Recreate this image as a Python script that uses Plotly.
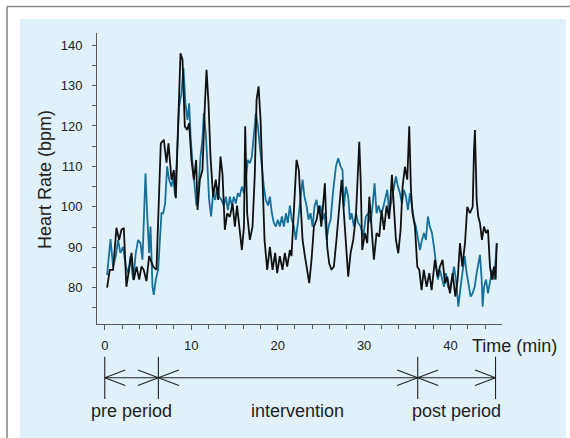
import plotly.graph_objects as go

# ---------------- data ----------------
T_BLACK = [0.27, 0.58, 0.96, 1.35, 1.66, 1.93, 2.2, 2.5, 2.8, 3.09, 3.36, 3.67, 3.98, 4.24, 4.5, 4.82,
           5.13, 5.6, 5.98, 6.17, 6.48, 6.83, 7.14, 7.37, 7.72, 7.99, 8.22, 8.49, 8.76, 8.99, 9.26,
           9.53, 9.76, 10.03, 10.3, 10.57, 10.73, 11.0, 11.3, 11.57, 11.77, 12.0, 12.23, 12.53, 12.84,
           13.12, 13.39, 13.62, 13.89, 14.16, 14.47, 14.78, 15.05, 15.3, 15.6, 15.86, 16.1, 16.24,
           16.47, 16.78, 17.09, 17.36, 17.56, 17.79, 18.02, 18.25, 18.48, 18.79, 19.1, 19.41, 19.71,
           19.94, 20.25, 20.56, 20.83, 21.1, 21.41, 21.6, 21.88, 22.18, 22.45, 22.65, 22.88, 23.15,
           23.42, 23.65, 23.92, 24.19, 24.5, 24.8, 25.05, 25.46, 25.73, 25.96, 26.23, 26.5, 26.8,
           27.12, 27.4, 27.66, 27.9, 28.16, 28.43, 28.74, 29.05, 29.32, 29.44, 29.6, 29.78, 30.09,
           30.36, 30.6, 30.86, 31.13, 31.44, 31.75, 32.02, 32.3, 32.6, 32.9, 33.22, 33.45, 33.68,
           33.95, 34.22, 34.45, 34.72, 34.99, 35.22, 35.42, 35.6, 35.88, 36.15, 36.38, 36.65, 36.9,
           37.23, 37.54, 37.81, 38.19, 38.5, 38.77, 39.08, 39.35, 39.62, 39.93, 40.24, 40.55, 40.82,
           41.09, 41.36, 41.67, 41.93, 42.24, 42.56, 42.71, 42.82, 43.02, 43.2, 43.4, 43.63, 43.87,
           44.1, 44.33, 44.56, 44.8, 45.02, 45.22, 45.33]
HR_BLACK = [80, 84.4, 84.4, 94.8, 91.8, 94.3, 94.8, 80.2, 84.4, 88.6, 81.9, 85.2, 82, 85.2, 84.4, 81.6,
            87.8, 85.2, 84.4, 98.4, 115.7, 116.6, 110.9, 115.7, 106.7, 109.1, 102.1, 120.7, 138, 136.4,
            119.9, 119, 120.7, 111.6, 106.7, 111.6, 99.2, 106.7, 109.1, 124.8, 133.9, 125.6, 112.4,
            102.5, 106.7, 101.7, 112.4, 108, 94.3, 98.4, 97.5, 100.8, 95.1, 100.3, 95.1, 89.3, 95.1,
            119.9, 98.4, 91.8, 95.1, 108.3, 126.5, 129.8, 121.5, 104.2, 91.8, 84.4, 90.1, 84.4, 88.6,
            83.6, 87.8, 84.4, 88.6, 85.2, 89.3, 87.8, 98.4, 111.6, 109.1, 100.3, 91.8, 87.8, 83.6, 81.1,
            87, 95.1, 96.8, 100.3, 95.1, 105.8, 90.1, 86, 84.4, 85.2, 91.8, 100, 106.7, 98.4, 90.1,
            82.7, 88.5, 91.8, 97.6, 109.1, 116.1, 106.7, 89.3, 93.5, 91, 102.5, 95.1, 86.9, 93.5,
            92.6, 99.2, 94.3, 100.3, 97, 107.9, 100.3, 91.8, 88.5, 94.3, 105, 109.9, 106.7, 119.9,
            104.2, 98.4, 95.1, 85.2, 84.4, 79.4, 84.4, 80.2, 83.6, 79.4, 86.9, 82.7, 85.2, 86.9, 81.1,
            82.7, 78.6, 83.6, 77.8, 82, 91, 85.2, 91, 100, 98.4, 100, 114.1, 119, 101.7, 97.6, 96,
            91.8, 95.1, 93.5, 94.3, 85.2, 82, 85.2, 82, 91]

T_BLUE = [0.27, 0.66, 0.96, 1.27, 1.54, 1.8, 2.12, 2.43, 2.74, 2.97, 3.28, 3.59, 3.86, 4.13, 4.36, 4.51,
          4.71, 4.9, 5.13, 5.29, 5.52, 5.67, 5.9, 6.17, 6.37, 6.56, 6.75, 6.98, 7.21, 7.44, 7.72, 7.91,
          8.14, 8.37, 8.6, 8.87, 9.1, 9.33, 9.57, 9.76, 9.95, 10.22, 10.45, 10.61, 10.84, 11.07, 11.3,
          11.46, 11.69, 11.84, 12.07, 12.3, 12.53, 12.77, 13.0, 13.23, 13.5, 13.77, 14.0, 14.24, 14.47,
          14.7, 14.93, 15.16, 15.39, 15.6, 15.86, 16.1, 16.32, 16.55, 16.78, 17.01, 17.25, 17.48,
          17.71, 17.94, 18.17, 18.4, 18.63, 18.9, 19.1, 19.33, 19.56, 19.79, 20.02, 20.25, 20.49,
          20.72, 20.95, 21.18, 21.41, 21.64, 21.88, 22.1, 22.38, 22.65, 22.88, 23.1, 23.34, 23.57,
          23.8, 24.04, 24.27, 24.5, 24.73, 24.96, 25.19, 25.42, 25.66, 25.89, 26.12, 26.43, 26.74,
          27.0, 27.28, 27.5, 27.66, 27.9, 28.16, 28.36, 28.55, 28.82, 29.05, 29.32, 29.6, 29.9, 30.2,
          30.48, 30.75, 30.98, 31.21, 31.44, 31.67, 31.91, 32.14, 32.41, 32.68, 32.9, 33.18, 33.45,
          33.68, 33.91, 34.14, 34.37, 34.6, 34.84, 35.07, 35.3, 35.53, 35.76, 35.99, 36.23, 36.46,
          36.69, 36.92, 37.15, 37.38, 37.6, 37.85, 38.08, 38.31, 38.54, 38.77, 39.0, 39.24, 39.47,
          39.7, 39.93, 40.16, 40.4, 40.63, 40.9, 41.16, 41.4, 41.63, 41.86, 42.09, 42.32, 42.55,
          42.79, 43.02, 43.25, 43.4, 43.6, 43.71, 43.87, 44.1, 44.33, 44.56, 44.8, 45.02, 45.2, 45.37]
HR_BLUE = [83.1, 92, 85.2, 87.8, 91.8, 88.6, 90.1, 85.2, 83.6, 87.8, 82, 88.6, 91.8, 91, 86.9, 95.1,
           108.3, 98.4, 88.6, 95.1, 80.2, 78.2, 82, 84.4, 93.5, 98.4, 98.4, 100.8, 110, 106.7, 105,
           107.5, 102.5, 114.1, 124.8, 128.1, 134.3, 125.6, 121.5, 125.6, 116.6, 109.1, 103.4, 100.3,
           104.2, 112.4, 116.6, 123.2, 118.2, 109.9, 101.7, 97.6, 103.4, 101.7, 105, 102.5, 101.7,
           100.3, 102.5, 99.2, 102.5, 100.3, 102.5, 100.8, 103.4, 102.5, 105, 103.4, 106.7, 111.6,
           110.8, 112.4, 118.2, 123.2, 119.9, 114.9, 108.3, 105, 101.7, 100.3, 102.5, 98.4, 96, 95.1,
           96.8, 95.1, 97.6, 95.1, 98.4, 96, 100.3, 96.8, 95.1, 91.8, 96.8, 101.7, 106.7, 102.5,
           100.3, 96.8, 98.4, 95.1, 100.3, 101.7, 98.4, 100.3, 96.8, 98.4, 91.8, 95.1, 96.8, 104.2,
           110, 112, 110, 109.1, 100, 105, 102.5, 96.8, 98.4, 95.1, 98.4, 96, 95.1, 92.6, 97.6, 98.4,
           96, 100.3, 105.8, 98.4, 100.3, 98.4, 99.2, 101.7, 104.2, 98.4, 101.7, 105.8, 107.5, 105,
           103.4, 100.8, 104.2, 102.5, 99.2, 103.4, 100.3, 96.8, 95.1, 91.8, 89.3, 91.8, 93.5, 91.8,
           97.6, 95.1, 93.5, 90.1, 85.2, 82, 84.4, 82, 80.2, 83.6, 80.2, 79.4, 82, 85.2, 82, 75.3,
           80.2, 83.6, 87.8, 83.6, 80.2, 77.8, 78.6, 80.2, 83.6, 86.9, 88.1, 82, 75.3, 80.2, 82, 78.6,
           82, 84.4, 82, 86.9, 91]

X_TICKS = [0, 10, 20, 30, 40]
Y_TICKS = [80, 90, 100, 110, 120, 130, 140]
PERIOD_BOUNDS = [0, 6.2, 36.2, 45.2]
PERIOD_LABELS = ["pre period", "intervention", "post period"]
PERIOD_LABEL_X = [3.1, 22.3, 40.7]
X_TITLE = "Time (min)"
Y_TITLE = "Heart Rate (bpm)"

# ---------------- layout geometry ----------------
W, H = 570, 438
ML, MR, MT, MB = 97, 68, 33, 114
PW, PH = W - ML - MR, H - MT - MB


def pxx(x):  # pixel x -> paper x
    return (x - ML) / PW


def pxy(y):  # pixel y (from top) -> paper y
    return (H - MB - y) / PH


FONT = "Liberation Sans, Arial, Helvetica, sans-serif"
AXIS_COLOR = "#5a5a5a"
BLUE = "#17709a"
BLACK = "#111111"

fig = go.Figure()
fig.add_trace(go.Scatter(x=T_BLUE, y=HR_BLUE, mode="lines",
                         line=dict(color=BLUE, width=1.8), showlegend=False))
fig.add_trace(go.Scatter(x=T_BLACK, y=HR_BLACK, mode="lines",
                         line=dict(color=BLACK, width=1.8), showlegend=False))

shapes = []
# light blue panel
shapes.append(dict(type="rect", xref="paper", yref="paper", layer="below",
                   x0=pxx(20), x1=pxx(566), y0=pxy(19), y1=pxy(445),
                   fillcolor="#e1f1fa", line=dict(width=0)))
# grey frame (top and left)
shapes.append(dict(type="line", xref="paper", yref="paper", layer="below",
                   x0=pxx(7), x1=pxx(575), y0=pxy(6.5), y1=pxy(6.5),
                   line=dict(color="#8a8a8a", width=1.6)))
shapes.append(dict(type="line", xref="paper", yref="paper", layer="below",
                   x0=pxx(7), x1=pxx(7), y0=pxy(6.5), y1=pxy(445),
                   line=dict(color="#8a8a8a", width=1.6)))

# period arrows
ARROW_Y = pxy(377.7)
TICK_Y0, TICK_Y1 = pxy(356.7), pxy(399)
HEAD_LEN = 20.5 / (PW / (45.95 + 0.9))   # in minutes
HEAD_HALF = 7.7 / PH
ac = dict(color="#222222", width=1.1)
shapes.append(dict(type="line", xref="x", yref="paper", x0=PERIOD_BOUNDS[0], x1=PERIOD_BOUNDS[-1],
                   y0=ARROW_Y, y1=ARROW_Y, line=ac))
for b in PERIOD_BOUNDS:
    shapes.append(dict(type="line", xref="x", yref="paper", x0=b, x1=b,
                       y0=TICK_Y0, y1=TICK_Y1, line=ac))
for a, b in zip(PERIOD_BOUNDS[:-1], PERIOD_BOUNDS[1:]):
    for tip, d in ((a, 1), (b, -1)):
        for s in (1, -1):
            shapes.append(dict(type="line", xref="x", yref="paper",
                               x0=tip, x1=tip + d * HEAD_LEN,
                               y0=ARROW_Y, y1=ARROW_Y + s * HEAD_HALF, line=ac))

annotations = []
for lab, lx in zip(PERIOD_LABELS, PERIOD_LABEL_X):
    annotations.append(dict(text=lab, x=lx, xref="x", y=pxy(410.7), yref="paper",
                            showarrow=False, xanchor="center", yanchor="middle",
                            font=dict(family=FONT, size=18, color="#222222")))
annotations.append(dict(text=X_TITLE, x=pxx(514), xref="paper", y=pxy(346), yref="paper",
                        showarrow=False, xanchor="center", yanchor="middle",
                        font=dict(family=FONT, size=18, color="#222222")))
annotations.append(dict(text=Y_TITLE, x=pxx(45), xref="paper", y=pxy(179), yref="paper",
                        showarrow=False, xanchor="center", yanchor="middle", textangle=-90,
                        font=dict(family=FONT, size=18, color="#222222")))

fig.update_layout(
    width=W, height=H,
    margin=dict(l=ML, r=MR, t=MT, b=MB, pad=0),
    paper_bgcolor="white",
    plot_bgcolor="rgba(0,0,0,0)",
    shapes=shapes,
    annotations=annotations,
    showlegend=False,
    xaxis=dict(range=[-0.9, 45.95], showline=True, linecolor=AXIS_COLOR, linewidth=1,
               showgrid=False, zeroline=False, ticks="outside", ticklen=5, tickcolor=AXIS_COLOR,
               tickmode="array", tickvals=X_TICKS, ticktext=[str(v) for v in X_TICKS],
               ticklabelstandoff=4,
               minor=dict(tick0=0, dtick=2, ticks="outside", ticklen=4, tickcolor=AXIS_COLOR),
               tickfont=dict(family=FONT, size=13, color="#222222")),
    yaxis=dict(range=[71, 143], showline=True, linecolor=AXIS_COLOR, linewidth=1,
               showgrid=False, zeroline=False, ticks="outside", ticklen=4, tickcolor=AXIS_COLOR,
               tickmode="array", tickvals=Y_TICKS, ticktext=[str(v) for v in Y_TICKS],
               ticklabelstandoff=7,
               minor=dict(tick0=0, dtick=5, ticks="outside", ticklen=4, tickcolor=AXIS_COLOR),
               tickfont=dict(family=FONT, size=13, color="#222222")),
)

fig.write_html("out.html", config={"displayModeBar": False},
               post_script="document.body.style.margin='0';document.body.style.overflow='hidden';")
